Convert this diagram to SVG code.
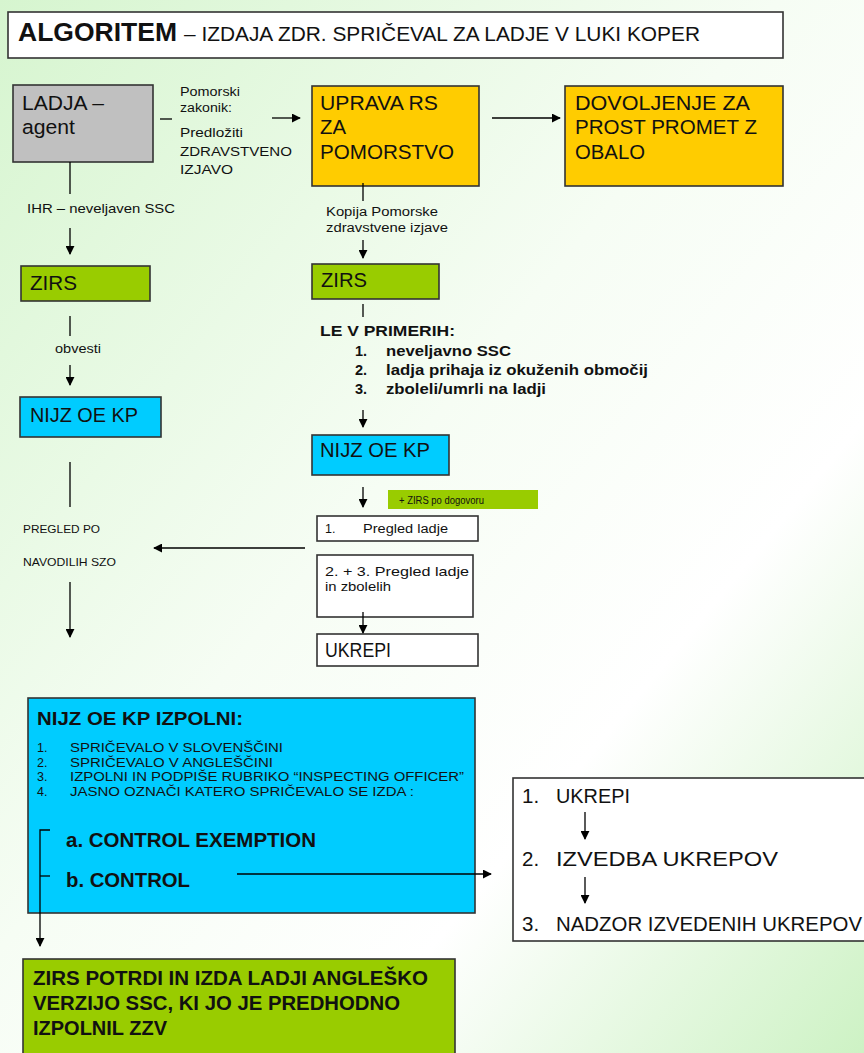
<svg xmlns="http://www.w3.org/2000/svg" width="864" height="1053" viewBox="0 0 864 1053">
<defs>
<linearGradient id="bg" x1="0" y1="0" x2="1" y2="1">
<stop offset="0" stop-color="#d6f5cf"/>
<stop offset="0.45" stop-color="#f6fdf4"/>
<stop offset="0.7" stop-color="#ffffff"/>
<stop offset="1" stop-color="#cdf2c4"/>
</linearGradient>
<marker id="ah" viewBox="0 0 10 10" refX="9" refY="5" markerWidth="9" markerHeight="9" markerUnits="userSpaceOnUse" orient="auto">
<path d="M0,0 L10,5 L0,10 z" fill="#000"/>
</marker>
<style>
text{font-family:"Liberation Sans",Arial,sans-serif;fill:#111}
.box{stroke:#333333;stroke-width:1.6}
.gray{fill:#c0c0c0}.yel{fill:#ffcc00}.grn{fill:#99cc00}.blu{fill:#00ccff}.wht{fill:#ffffff}
.big{font-size:20.5px}
.mid{font-size:13px}
.sm{font-size:12.5px}
.b{font-weight:bold}
.c line,.c path{stroke:#000;stroke-width:1.3;fill:none}
</style>
</defs>
<rect width="864" height="1053" fill="url(#bg)"/>

<g id="title">
<rect x="8" y="12" width="775" height="46" class="box wht"/>
<text x="18" y="41" font-size="25" class="b" textLength="159" lengthAdjust="spacingAndGlyphs">ALGORITEM</text>
<text x="184" y="41" font-size="19.5" textLength="516" lengthAdjust="spacingAndGlyphs">– IZDAJA ZDR. SPRIČEVAL ZA LADJE V LUKI KOPER</text>
</g>

<g id="ladja">
<rect x="13" y="85" width="140" height="77" class="box gray"/>
<text x="22" y="110" class="big" textLength="82" lengthAdjust="spacingAndGlyphs">LADJA –</text>
<text x="22" y="134" class="big" textLength="53" lengthAdjust="spacingAndGlyphs">agent</text>
</g>

<g id="uprava">
<rect x="312" y="86" width="167" height="100" class="box yel"/>
<text x="320" y="110" class="big" textLength="118" lengthAdjust="spacingAndGlyphs">UPRAVA RS</text>
<text x="320" y="134" class="big" textLength="26" lengthAdjust="spacingAndGlyphs">ZA</text>
<text x="320" y="159" class="big" textLength="134" lengthAdjust="spacingAndGlyphs">POMORSTVO</text>
</g>

<g id="dovoljenje">
<rect x="565" y="86" width="218" height="100" class="box yel"/>
<text x="575" y="110" class="big" textLength="175" lengthAdjust="spacingAndGlyphs">DOVOLJENJE ZA</text>
<text x="575" y="134" class="big" textLength="182" lengthAdjust="spacingAndGlyphs">PROST PROMET Z</text>
<text x="575" y="159" class="big" textLength="70" lengthAdjust="spacingAndGlyphs">OBALO</text>
</g>

<g id="zirs-left">
<rect x="21" y="266" width="129" height="35" class="box grn"/>
<text x="30" y="290" class="big" textLength="47" lengthAdjust="spacingAndGlyphs">ZIRS</text>
</g>

<g id="nijz-left">
<rect x="20" y="397" width="141" height="40" class="box blu"/>
<text x="30" y="422" class="big" textLength="108" lengthAdjust="spacingAndGlyphs">NIJZ OE KP</text>
</g>

<g id="zirs-mid">
<rect x="312" y="264" width="127" height="35" class="box grn"/>
<text x="321" y="287" class="big" textLength="46" lengthAdjust="spacingAndGlyphs">ZIRS</text>
</g>

<g id="primeri">
<text x="320" y="336" font-size="14.5" class="b" textLength="135" lengthAdjust="spacingAndGlyphs">LE V PRIMERIH:</text>
<text x="355" y="356" font-size="14.5" class="b">1.</text>
<text x="386" y="356" font-size="14.5" class="b" textLength="125" lengthAdjust="spacingAndGlyphs">neveljavno SSC</text>
<text x="355" y="375" font-size="14.5" class="b">2.</text>
<text x="386" y="375" font-size="14.5" class="b" textLength="262" lengthAdjust="spacingAndGlyphs">ladja prihaja iz okuženih območij</text>
<text x="355" y="394" font-size="14.5" class="b">3.</text>
<text x="386" y="394" font-size="14.5" class="b" textLength="160" lengthAdjust="spacingAndGlyphs">zboleli/umrli na ladji</text>
</g>

<g id="nijz-mid">
<rect x="312" y="435" width="137" height="40" class="box blu"/>
<text x="320" y="457" class="big" textLength="110" lengthAdjust="spacingAndGlyphs">NIJZ OE KP</text>
</g>

<g id="zirs-dogovor">
<rect x="388" y="490" width="150" height="19" fill="#99cc00"/>
<text x="399" y="503.5" font-size="10" textLength="85" lengthAdjust="spacingAndGlyphs">+ ZIRS po dogovoru</text>
</g>

<g id="pregled1">
<rect x="317" y="516" width="161" height="25" class="box wht"/>
<text x="325" y="533" class="sm">1.</text>
<text x="363" y="533" class="sm" textLength="85" lengthAdjust="spacingAndGlyphs">Pregled ladje</text>
</g>

<g id="pregled-szo">
<text x="23" y="533" font-size="11" textLength="77" lengthAdjust="spacingAndGlyphs">PREGLED PO</text>
<text x="23" y="566" font-size="11" textLength="93" lengthAdjust="spacingAndGlyphs">NAVODILIH SZO</text>
</g>

<g id="pregled23">
<rect x="317" y="555" width="156" height="62" class="box wht"/>
<text x="325" y="576" class="mid" textLength="144" lengthAdjust="spacingAndGlyphs">2. + 3. Pregled ladje</text>
<text x="325" y="591" class="mid" textLength="66" lengthAdjust="spacingAndGlyphs">in zbolelih</text>
</g>

<g id="ukrepi-mid">
<rect x="317" y="634" width="161" height="32" class="box wht"/>
<text x="325" y="657" class="big" textLength="66" lengthAdjust="spacingAndGlyphs">UKREPI</text>
</g>

<g id="izpolni">
<rect x="28" y="698" width="447" height="215" class="box blu"/>
<text x="37" y="725" font-size="18.5" class="b" textLength="206" lengthAdjust="spacingAndGlyphs">NIJZ OE KP IZPOLNI:</text>
<text x="37" y="752" class="sm">1.</text>
<text x="70" y="752" class="sm" textLength="213" lengthAdjust="spacingAndGlyphs">SPRIČEVALO V SLOVENŠČINI</text>
<text x="37" y="767" class="sm">2.</text>
<text x="70" y="767" class="sm" textLength="203" lengthAdjust="spacingAndGlyphs">SPRIČEVALO V ANGLEŠČINI</text>
<text x="37" y="781" class="sm">3.</text>
<text x="70" y="781" class="sm" textLength="394" lengthAdjust="spacingAndGlyphs">IZPOLNI IN PODPIŠE RUBRIKO “INSPECTING OFFICER”</text>
<text x="37" y="796" class="sm">4.</text>
<text x="70" y="796" class="sm" textLength="344" lengthAdjust="spacingAndGlyphs">JASNO OZNAČI KATERO SPRIČEVALO SE IZDA :</text>
<text x="66" y="847" font-size="19.5" class="b" textLength="250" lengthAdjust="spacingAndGlyphs">a. CONTROL EXEMPTION</text>
<text x="66" y="887" font-size="19.5" class="b" textLength="124" lengthAdjust="spacingAndGlyphs">b. CONTROL</text>
</g>

<g id="ukrepi-right">
<rect x="513" y="778" width="360" height="163" class="box wht"/>
<text x="522" y="803" class="big">1.</text>
<text x="556" y="803" class="big" textLength="74" lengthAdjust="spacingAndGlyphs">UKREPI</text>
<text x="522" y="866" class="big">2.</text>
<text x="556" y="866" class="big" textLength="222" lengthAdjust="spacingAndGlyphs">IZVEDBA UKREPOV</text>
<text x="522" y="931" class="big">3.</text>
<text x="556" y="931" class="big" textLength="306" lengthAdjust="spacingAndGlyphs">NADZOR IZVEDENIH UKREPOV</text>
</g>

<g id="zirs-potrdi">
<rect x="23" y="959" width="432" height="100" class="box grn"/>
<text x="33" y="985" font-size="19.5" class="b" textLength="395" lengthAdjust="spacingAndGlyphs">ZIRS POTRDI IN IZDA LADJI ANGLEŠKO</text>
<text x="33" y="1010" font-size="19.5" class="b" textLength="367" lengthAdjust="spacingAndGlyphs">VERZIJO SSC, KI JO JE PREDHODNO</text>
<text x="33" y="1035" font-size="19.5" class="b" textLength="134" lengthAdjust="spacingAndGlyphs">IZPOLNIL ZZV</text>
</g>

<g id="connectors" class="c">
<line x1="160" y1="119" x2="172" y2="119"/>
<line x1="272" y1="118" x2="300" y2="118" marker-end="url(#ah)"/>
<line x1="492" y1="118" x2="560" y2="118" marker-end="url(#ah)"/>
<line x1="70" y1="162" x2="70" y2="194"/>
<line x1="70" y1="228" x2="70" y2="254" marker-end="url(#ah)"/>
<line x1="70" y1="316" x2="70" y2="336"/>
<line x1="70" y1="365" x2="70" y2="385" marker-end="url(#ah)"/>
<line x1="70" y1="462" x2="70" y2="507"/>
<line x1="70" y1="582" x2="70" y2="637" marker-end="url(#ah)"/>
<line x1="363" y1="183" x2="363" y2="201"/>
<line x1="363" y1="240" x2="363" y2="258" marker-end="url(#ah)"/>
<line x1="363" y1="304" x2="363" y2="317"/>
<line x1="363" y1="410" x2="363" y2="427" marker-end="url(#ah)"/>
<line x1="363" y1="487" x2="363" y2="507" marker-end="url(#ah)"/>
<line x1="305" y1="548" x2="154" y2="548" marker-end="url(#ah)"/>
<line x1="363" y1="612" x2="363" y2="633" marker-end="url(#ah)"/>
<path d="M50,830 H40 V946" marker-end="url(#ah)"/>
<line x1="40" y1="876" x2="50" y2="876"/>
<line x1="237" y1="874" x2="491" y2="874" marker-end="url(#ah)"/>
<line x1="585" y1="812" x2="585" y2="839" marker-end="url(#ah)"/>
<line x1="585" y1="877" x2="585" y2="903" marker-end="url(#ah)"/>
</g>

<g id="labels">
<text x="180" y="96" class="sm" textLength="60" lengthAdjust="spacingAndGlyphs">Pomorski</text>
<text x="180" y="112" class="sm" textLength="52" lengthAdjust="spacingAndGlyphs">zakonik:</text>
<text x="180" y="137" class="sm" textLength="63" lengthAdjust="spacingAndGlyphs">Predložiti</text>
<text x="180" y="156" class="sm" textLength="112" lengthAdjust="spacingAndGlyphs">ZDRAVSTVENO</text>
<text x="180" y="174" class="sm" textLength="53" lengthAdjust="spacingAndGlyphs">IZJAVO</text>
<text x="27" y="213" class="mid" textLength="148" lengthAdjust="spacingAndGlyphs">IHR – neveljaven SSC</text>
<text x="55" y="353" class="sm" textLength="46" lengthAdjust="spacingAndGlyphs">obvesti</text>
<text x="326" y="216" class="sm" textLength="112" lengthAdjust="spacingAndGlyphs">Kopija Pomorske</text>
<text x="326" y="232" class="sm" textLength="122" lengthAdjust="spacingAndGlyphs">zdravstvene izjave</text>
</g>
</svg>
